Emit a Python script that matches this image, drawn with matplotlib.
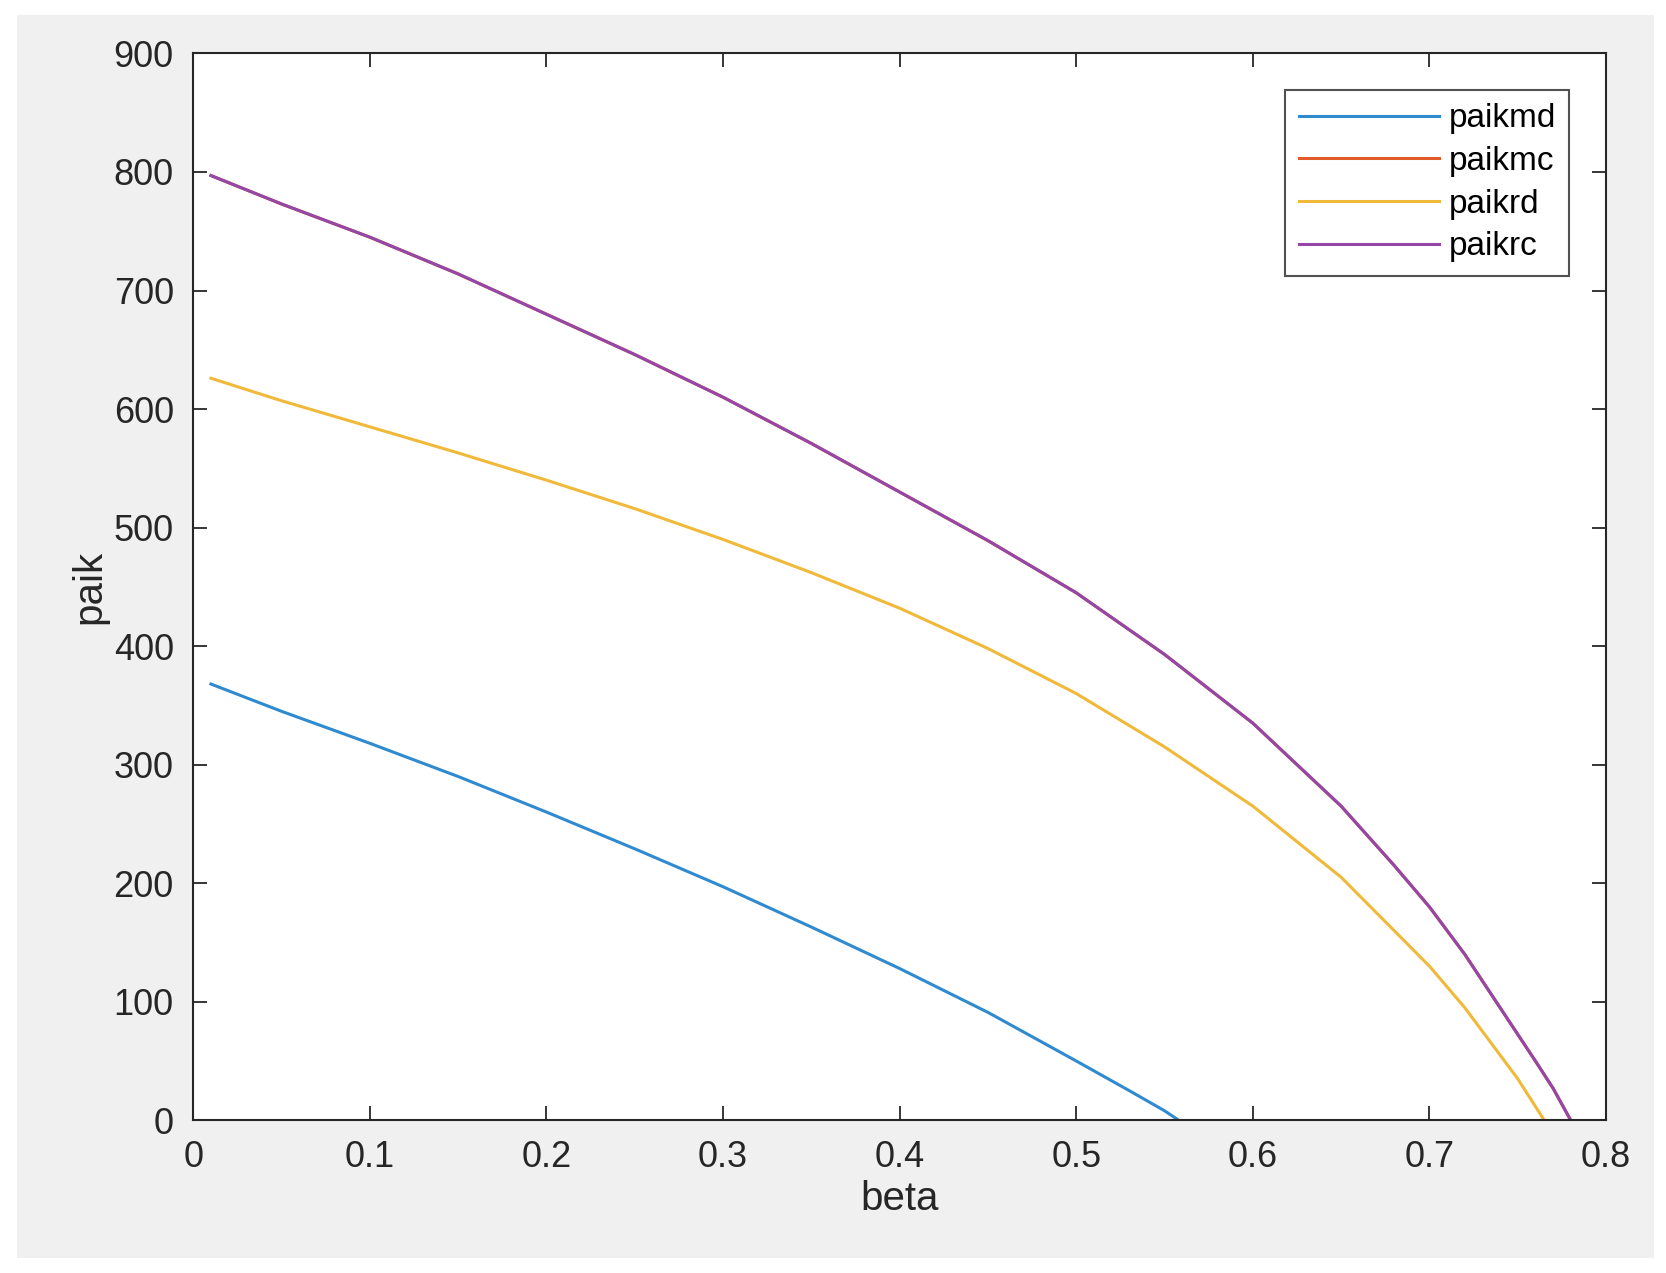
import matplotlib
matplotlib.use("Agg")
import matplotlib.pyplot as plt
from matplotlib.patches import Rectangle

plt.rcParams["font.family"] = ["Liberation Sans", "DejaVu Sans"]

# values
beta_md = [0.01, 0.05, 0.1, 0.15, 0.2, 0.25, 0.3, 0.35, 0.4, 0.45, 0.5, 0.53, 0.55, 0.558]
paikmd = [368, 345, 318, 290, 260, 229, 197, 163, 128, 91, 50, 25, 8, 0]

beta_r = [0.01, 0.05, 0.1, 0.15, 0.2, 0.25, 0.3, 0.35, 0.4, 0.45, 0.5, 0.55,
          0.6, 0.65, 0.68, 0.7, 0.72, 0.74, 0.75, 0.765]
paikrd = [626, 607, 585, 563, 540, 516, 490, 462, 432, 398, 360, 315,
          265, 205, 160, 130, 95, 55, 35, 0]

beta_rc = [0.01, 0.05, 0.1, 0.15, 0.2, 0.25, 0.3, 0.35, 0.4, 0.45, 0.5, 0.55,
           0.6, 0.65, 0.68, 0.7, 0.72, 0.74, 0.76, 0.77, 0.78]
paikrc = [797, 773, 745, 714, 680, 646, 610, 571, 530, 489, 445, 393,
          335, 265, 215, 180, 140, 95, 50, 27, 0]
paikmc = paikrc  # hidden under paikrc

fig = plt.figure(figsize=(16.66, 12.73), dpi=100, facecolor="white")
fig.patches.append(Rectangle((0.01, 0.012), 0.983, 0.976, transform=fig.transFigure,
                             facecolor="#f0f0f0", edgecolor="none", zorder=-1))
ax = fig.add_axes([0.116, 0.12, 0.848, 0.838])

lw = 2.2
ax.plot(beta_md, paikmd, color="#2f8ad0", lw=lw, label="paikmd")
ax.plot(beta_rc, paikmc, color="#e2592a", lw=lw, label="paikmc")
ax.plot(beta_r, paikrd, color="#f0b93a", lw=lw, label="paikrd")
ax.plot(beta_rc, paikrc, color="#9447a6", lw=lw, label="paikrc")

ax.set_xlim(0, 0.8)
ax.set_ylim(0, 900)
ax.set_xticks([0, 0.1, 0.2, 0.3, 0.4, 0.5, 0.6, 0.7, 0.8])
ax.set_xticklabels(["0", "0.1", "0.2", "0.3", "0.4", "0.5", "0.6", "0.7", "0.8"])
ax.set_yticks(range(0, 901, 100))
ax.tick_params(direction="in", top=True, right=True, labelsize=26, colors="#262626",
               length=10, pad=14, width=1.3)
for s in ax.spines.values():
    s.set_color("#262626")
    s.set_linewidth(1.5)
ax.set_xlabel("beta", fontsize=29, color="#262626")
ax.set_ylabel("paik", fontsize=29, color="#262626")
leg = ax.legend(loc="upper right", fontsize=24, fancybox=False, edgecolor="#262626",
                handlelength=4.2, handletextpad=0.3, borderpad=0.4, labelspacing=0.35,
                borderaxespad=1.1)
leg.get_frame().set_linewidth(1.5)

fig.savefig("out.png", dpi=100, facecolor=fig.get_facecolor())
